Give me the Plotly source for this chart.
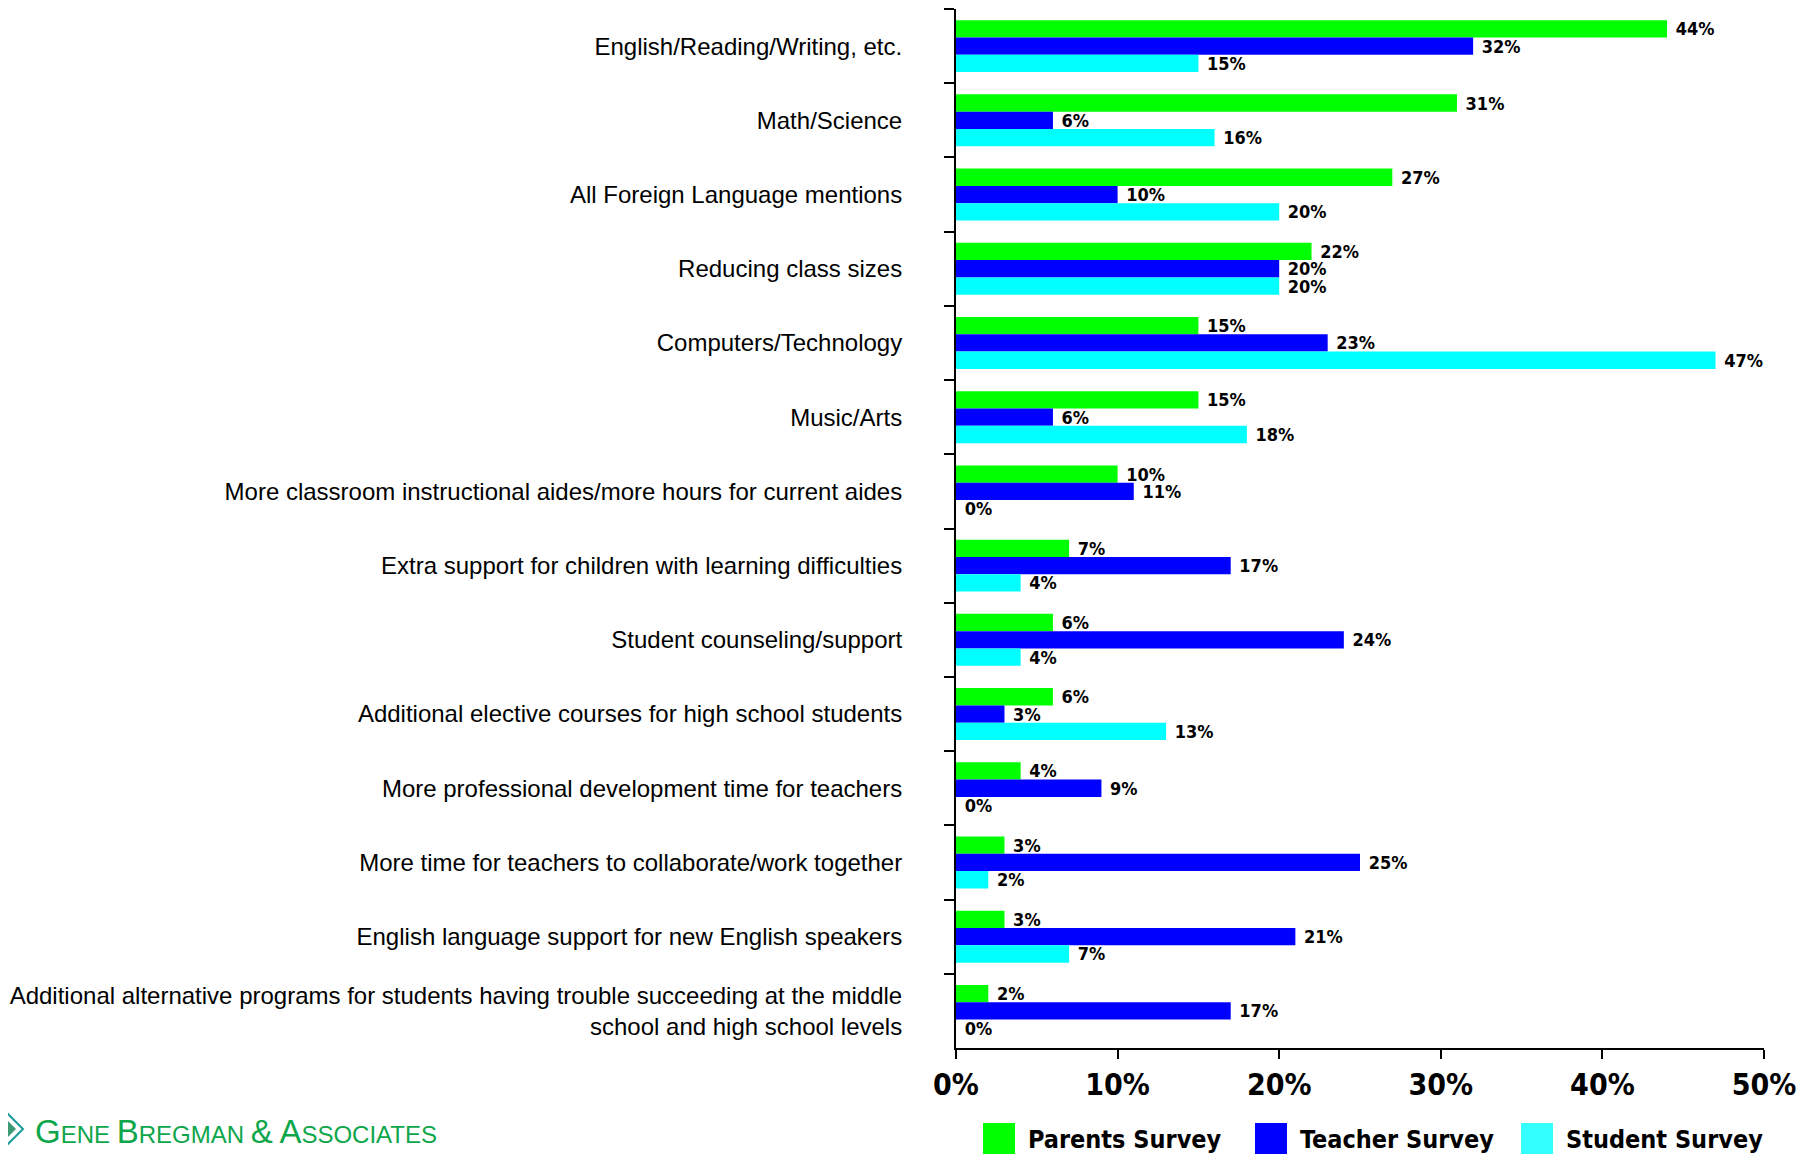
import plotly.graph_objects as go

categories = [
    "English/Reading/Writing, etc.",
    "Math/Science",
    "All Foreign Language mentions",
    "Reducing class sizes",
    "Computers/Technology",
    "Music/Arts",
    "More classroom instructional aides/more hours for current aides",
    "Extra support for children with learning difficulties",
    "Student counseling/support",
    "Additional elective courses for high school students",
    "More professional development time for teachers",
    "More time for teachers to collaborate/work together",
    "English language support for new English speakers",
    "Additional alternative programs for students having trouble succeeding at the middle<br>school and high school levels",
]
parents = [44, 31, 27, 22, 15, 15, 10, 7, 6, 6, 4, 3, 3, 2]
teacher = [32, 6, 10, 20, 23, 6, 11, 17, 24, 3, 9, 25, 21, 17]
student = [15, 16, 20, 20, 47, 18, 0, 4, 4, 13, 0, 2, 7, 0]

series_names = ["Parents Survey", "Teacher Survey", "Student Survey"]
series_colors = ["#00FF00", "#0000FF", "#00FFFF"]
legend_colors = ["#00FF00", "#0000FF", "#33FFFF"]
x_ticks = [0, 10, 20, 30, 40, 50]

NARROW = "DejaVu Sans Condensed, Liberation Sans Narrow, Arial Narrow, Liberation Sans, Arial, sans-serif"
SANS = "Liberation Sans, Arial, sans-serif"

# plot area in page pixels (page has an 8px body margin)
PX0, PX1, PY0, PY1 = 956, 1764, 9, 1048


def px(x):
    return (x - PX0) / (PX1 - PX0)


def py(y):
    return (PY1 - y) / (PY1 - PY0)


fig = go.Figure()
for name, vals, col in zip(series_names, [parents, teacher, student], series_colors):
    fig.add_trace(go.Bar(
        y=categories, x=vals, name=name, orientation="h",
        marker=dict(color=col, line=dict(width=0)),
        text=[f" {v}%" for v in vals],
        textposition="outside",
        textfont=dict(family=NARROW, size=18, color="black", weight="bold"),
        constraintext="none",
        cliponaxis=False,
        showlegend=False,
    ))

fig.update_layout(
    barmode="group",
    bargap=0.3,
    bargroupgap=0,
    width=1807, height=1146,
    plot_bgcolor="white", paper_bgcolor="white",
    margin=dict(l=PX0 - 8, r=1815 - PX1, t=PY0 - 8, b=1154 - PY1),
    xaxis=dict(
        range=[0, 50], tickvals=x_ticks, ticktext=[f"{t}%" for t in x_ticks],
        showgrid=False, zeroline=False,
        showline=True, linecolor="black", linewidth=2,
        ticks="outside", ticklen=9, tickwidth=2, tickcolor="black",
        tickfont=dict(family=NARROW, size=30, color="black", weight="bold"),
    ),
    yaxis=dict(
        autorange="reversed",
        showgrid=False, zeroline=False,
        showline=True, linecolor="black", linewidth=2,
        ticks="outside", tickson="boundaries", ticklen=10, tickwidth=2, tickcolor="black",
        ticklabelstandoff=47,
        tickfont=dict(family=SANS, size=24, color="black"),
    ),
)

# manual legend with large square keys
legend_x = [983, 1255, 1521]
for lx, name, col in zip(legend_x, series_names, legend_colors):
    fig.add_shape(type="rect", xref="paper", yref="paper",
                  x0=px(lx), x1=px(lx + 32), y0=py(1155), y1=py(1123),
                  fillcolor=col, line=dict(width=0))
    fig.add_annotation(xref="paper", yref="paper",
                       x=px(lx + 43), y=py(1139),
                       text=name, showarrow=False, xanchor="left", yanchor="middle",
                       font=dict(family=NARROW, size=25, color="black", weight="bold"))

# company logo: diamond outline with a textured-green inner diamond
def diamond(cx, cy, r):
    return (f"M {px(cx)},{py(cy - r)} L {px(cx + r)},{py(cy)} "
            f"L {px(cx)},{py(cy + r)} L {px(cx - r)},{py(cy)} Z")


fig.add_shape(type="path", xref="paper", yref="paper", path=diamond(-3, 1129, 26),
              fillcolor="white", line=dict(color="#1B9A9A", width=2))
fig.add_shape(type="path", xref="paper", yref="paper", path=diamond(-4, 1129, 20),
              fillcolor="#3E9A76", line=dict(width=0))
fig.add_annotation(
    xref="paper", yref="paper", x=px(33), y=py(1131),
    xanchor="left", yanchor="middle", showarrow=False,
    text=("<span style='font-size:33px'>G</span>ENE "
          "<span style='font-size:33px'>B</span>REGMAN "
          "<span style='font-size:33px'>&amp;</span> "
          "<span style='font-size:33px'>A</span>SSOCIATES"),
    font=dict(family=SANS, size=24, color="#0DA64A"),
)

fig.write_html("out.html")
